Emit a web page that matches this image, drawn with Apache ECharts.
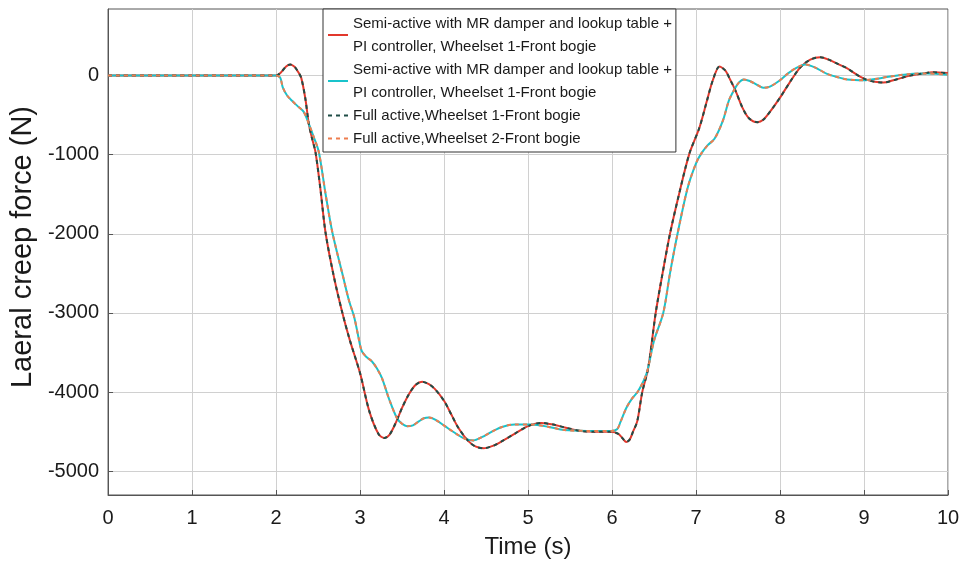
<!DOCTYPE html>
<html><head><meta charset="utf-8">
<script src="https://cdn.jsdelivr.net/npm/echarts@6/dist/echarts.min.js"></script>
<style>html,body{margin:0;padding:0;background:#fff}#c{width:966px;height:565px}</style>
</head><body><div id="c"></div>
<script>
// Curve A: Semi-active Wheelset 1 (red) / Full active Wheelset 1 (dark dashed)
const timeA = [0,1,2.0,2.06,2.12,2.17,2.22,2.26,2.30,2.35,2.39,2.43,2.47,2.53,2.59,2.69,2.79,2.88,3.0,3.11,3.22,3.29,3.35,3.42,3.5,3.58,3.66,3.74,3.82,3.89,4.0,4.09,4.17,4.29,4.38,4.47,4.58,4.69,4.85,5.0,5.16,5.3,5.45,5.63,5.8,5.99,6.08,6.13,6.17,6.21,6.25,6.30,6.36,6.43,6.52,6.60,6.69,6.80,6.92,7.04,7.13,7.2,7.28,7.35,7.41,7.47,7.55,7.63,7.73,7.8,7.9,8.0,8.12,8.24,8.36,8.48,8.58,8.7,8.8,8.9,9.02,9.13,9.23,9.35,9.45,9.55,9.7,9.82,10];
const forceA = [0,0,0,40,115,140,110,50,-30,-300,-610,-800,-970,-1450,-1990,-2550,-3000,-3350,-3760,-4240,-4530,-4580,-4540,-4400,-4200,-4030,-3910,-3870,-3900,-3960,-4110,-4290,-4450,-4620,-4690,-4710,-4680,-4620,-4520,-4430,-4390,-4410,-4450,-4490,-4500,-4500,-4530,-4590,-4630,-4600,-4500,-4370,-4000,-3700,-3000,-2510,-2000,-1490,-990,-660,-320,-60,115,60,-60,-190,-400,-540,-590,-560,-430,-280,-80,100,200,230,200,140,90,20,-50,-80,-90,-60,-30,0,25,40,30];
// Curve B: Semi-active (cyan) / Full active Wheelset 2 (orange dashed)
const timeB = [0,1,2.0,2.05,2.08,2.13,2.19,2.26,2.33,2.39,2.45,2.51,2.59,2.67,2.8,2.87,2.93,2.98,3.02,3.08,3.14,3.2,3.26,3.35,3.44,3.5,3.56,3.63,3.7,3.76,3.82,3.9,4.01,4.15,4.25,4.35,4.45,4.57,4.69,4.84,5.04,5.25,5.43,5.7,5.99,6.06,6.1,6.17,6.24,6.31,6.41,6.5,6.61,6.69,6.78,6.9,7.0,7.06,7.14,7.22,7.32,7.39,7.45,7.51,7.57,7.64,7.73,7.8,7.88,8.0,8.1,8.2,8.3,8.42,8.56,8.68,8.8,9.0,9.13,9.27,9.4,9.55,9.75,10];
const forceB = [0,0,0,-30,-150,-250,-320,-390,-460,-610,-780,-970,-1500,-1980,-2550,-2850,-3050,-3300,-3480,-3560,-3610,-3700,-3820,-4100,-4330,-4400,-4430,-4420,-4370,-4330,-4320,-4350,-4430,-4530,-4590,-4610,-4570,-4500,-4440,-4410,-4410,-4440,-4480,-4490,-4490,-4470,-4380,-4200,-4080,-3990,-3770,-3350,-3000,-2500,-2000,-1420,-1110,-990,-880,-800,-570,-320,-190,-90,-50,-70,-120,-155,-140,-60,30,100,140,100,20,-20,-50,-60,-45,-20,0,20,25,10];
const yTicks = [-5000,-4000,-3000,-2000,-1000,0];
const seriesNames = [
  'Semi-active with MR damper and lookup table +\nPI controller, Wheelset 1-Front bogie',
  'Semi-active with MR damper and lookup table +\nPI controller, Wheelset 1-Front bogie ',
  'Full active,Wheelset 1-Front bogie',
  'Full active,Wheelset 2-Front bogie'
];
const zip = (t, v) => t.map((x, i) => [x, v[i]]);
const dataA = zip(timeA, forceA);
const dataB = zip(timeB, forceB);

const solidIcon = 'path://M0,0h20v2h-20z';
const dashIcon = 'path://M0,0h4v2h-4z M8,0h4v2h-4z M16,0h4v2h-4z';

const chart = echarts.init(document.getElementById('c'));
const lineCommon = { type: 'line', symbol: 'none', smooth: 0.3, animation: false };
chart.setOption({
  animation: false,
  textStyle: { fontFamily: 'Liberation Sans, Arial, sans-serif' },
  grid: { left: 105, right: 18, top: 9, bottom: 70, show: true, borderColor: '#555', borderWidth: 1, backgroundColor: '#fff' },
  legend: {
    orient: 'vertical', left: 323, top: 9,
    backgroundColor: '#fff', borderColor: '#333', borderWidth: 1,
    padding: [3, 4, 2, 5], itemGap: 0, itemWidth: 20, itemHeight: 2,
    textStyle: { fontSize: 15, lineHeight: 23, color: '#1a1a1a', fontFamily: 'Liberation Sans, Arial, sans-serif' },
    data: [
      { name: seriesNames[0], icon: solidIcon },
      { name: seriesNames[1], icon: solidIcon },
      { name: seriesNames[2], icon: dashIcon },
      { name: seriesNames[3], icon: dashIcon }
    ]
  },
  xAxis: {
    type: 'value', min: 0, max: 10, interval: 1,
    name: 'Time (s)', nameLocation: 'middle', nameGap: 40,
    nameTextStyle: { fontSize: 24, color: '#1a1a1a' },
    axisLine: { show: true, onZero: false, lineStyle: { color: '#555' } },
    axisTick: { show: true, inside: true, length: 5, lineStyle: { color: '#555' } },
    axisLabel: { fontSize: 20, color: '#1a1a1a', margin: 13 },
    splitLine: { show: true, lineStyle: { color: '#d0d0d0', width: 1 } }
  },
  yAxis: {
    type: 'value', min: -5300, max: 840,
    name: 'Laeral creep force (N)', nameLocation: 'middle', nameGap: 61,
    nameTextStyle: { fontSize: 29, color: '#1a1a1a', padding: [0, 0, 0, 10] },
    axisLine: { show: true, lineStyle: { color: '#555' } },
    axisTick: { show: true, inside: true, length: 5, customValues: yTicks, lineStyle: { color: '#555' } },
    axisLabel: { fontSize: 20, color: '#1a1a1a', margin: 9, customValues: yTicks, formatter: v => String(v) },
    splitLine: { show: true, lineStyle: { color: '#d0d0d0', width: 1 } }
  },
  series: [
    Object.assign({}, lineCommon, { name: seriesNames[0], data: dataA, color: '#e2382c', lineStyle: { width: 2, color: '#e2382c' }, z: 2 }),
    Object.assign({}, lineCommon, { name: seriesNames[1], data: dataB, color: '#19c3cb', lineStyle: { width: 2, color: '#19c3cb' }, z: 2 }),
    Object.assign({}, lineCommon, { name: seriesNames[2], data: dataA, color: '#1f4d47', lineStyle: { width: 2, color: '#1f4d47', type: [4, 4] }, z: 3 }),
    Object.assign({}, lineCommon, { name: seriesNames[3], data: dataB, color: '#ee7d4e', lineStyle: { width: 2, color: '#ee7d4e', type: [4, 4] }, z: 3 })
  ]
});
</script>
</body></html>
